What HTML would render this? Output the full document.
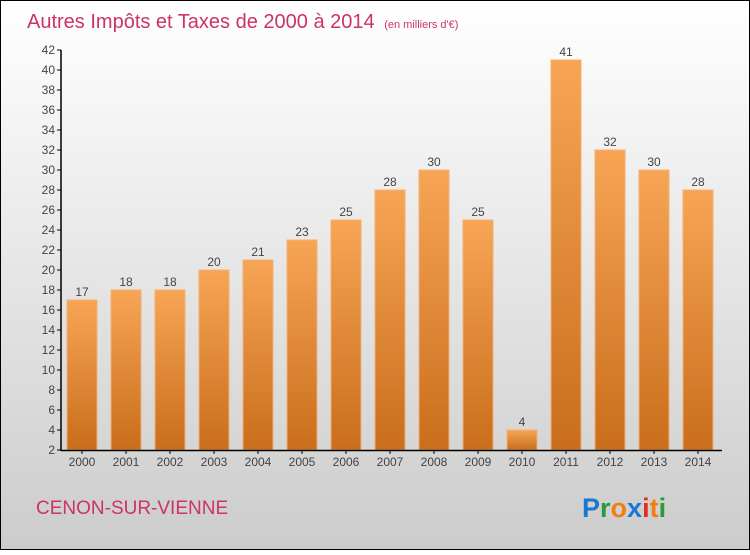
<!DOCTYPE html>
<html><head><meta charset="utf-8"><style>
html,body{margin:0;padding:0;}
body{width:750px;height:550px;overflow:hidden;font-family:"Liberation Sans",sans-serif;}
</style></head><body>
<svg width="750" height="550" xmlns="http://www.w3.org/2000/svg">
<defs>
<linearGradient id="bg" x1="0" y1="0" x2="0" y2="1"><stop offset="0" stop-color="#ffffff"/><stop offset="1" stop-color="#cccccc"/></linearGradient>
<linearGradient id="bar" x1="0" y1="0" x2="0" y2="1"><stop offset="0" stop-color="#f7a555"/><stop offset="1" stop-color="#c86e1c"/></linearGradient>
</defs>
<rect x="0.5" y="0.5" width="749" height="549" fill="url(#bg)" stroke="#000"/>
<text x="27" y="28" font-size="20" fill="#cc3366">Autres Impôts et Taxes de 2000 à 2014 <tspan font-size="11" dx="4">(en milliers d'€)</tspan></text>
<g id="yaxis"></g>
<g id="bars"></g>
<g id="xaxis"></g>
<text x="36" y="514" font-size="19" fill="#cc3366">CENON-SUR-VIENNE</text>
<g font-size="27" font-weight="bold" font-family="'Liberation Sans',sans-serif">
<text x="582" y="517"><tspan fill="#1a77d2">P</tspan><tspan fill="#2a9a3a">r</tspan><tspan fill="#f07f10">o</tspan><tspan fill="#1a77d2">x</tspan><tspan fill="#e03020">i</tspan><tspan fill="#f07f10">t</tspan><tspan fill="#2a9a3a">i</tspan></text>
</g>
</svg>
<script>
const categories=["2000","2001","2002","2003","2004","2005","2006","2007","2008","2009","2010","2011","2012","2013","2014"];
const values=[17,18,18,20,21,23,25,28,30,25,4,41,32,30,28];
const yTicks=[2,4,6,8,10,12,14,16,18,20,22,24,26,28,30,32,34,36,38,40,42];
const NS="http://www.w3.org/2000/svg";
function y(v){return 450-(v-2)*10;}
function x(i){return 82+i*44;}
function mk(tag,attrs,parent,txt){const e=document.createElementNS(NS,tag);for(const k in attrs)e.setAttribute(k,attrs[k]);if(txt!==undefined)e.textContent=txt;parent.appendChild(e);return e;}
const ya=document.getElementById('yaxis'),xa=document.getElementById('xaxis'),bg=document.getElementById('bars');
mk('line',{x1:61,y1:50,x2:61,y2:451,stroke:'#000','stroke-width':1.5},ya);
yTicks.forEach(t=>{
 const l=mk('line',{x1:57,y1:y(t),x2:61,y2:y(t),stroke:'#000'},ya);
 
 
 const tx=mk('text',{x:55,y:y(t)+4,'font-size':12,fill:'#444','text-anchor':'end'},ya,String(t));
 
 
});
categories.forEach((c,i)=>{
 const v=values[i];
 const r=mk('rect',{x:x(i)-15,y:y(v),width:30,height:450-y(v),fill:'url(#bar)',stroke:'#f4b070','stroke-width':1},bg);
 
 
 const lb=mk('text',{x:x(i),y:y(v)-4,'font-size':12,fill:'#444','text-anchor':'middle'},bg,String(v));
 
 
 const tk=mk('line',{x1:x(i),y1:450,x2:x(i),y2:454,stroke:'#000'},xa);
 
 
 const xl=mk('text',{x:x(i),y:466,'font-size':12,fill:'#444','text-anchor':'middle'},xa,c);
 
 
});
mk('line',{x1:61,y1:450.5,x2:722,y2:450.5,stroke:'#000','stroke-width':1.5},xa);
</script>
</body></html>
